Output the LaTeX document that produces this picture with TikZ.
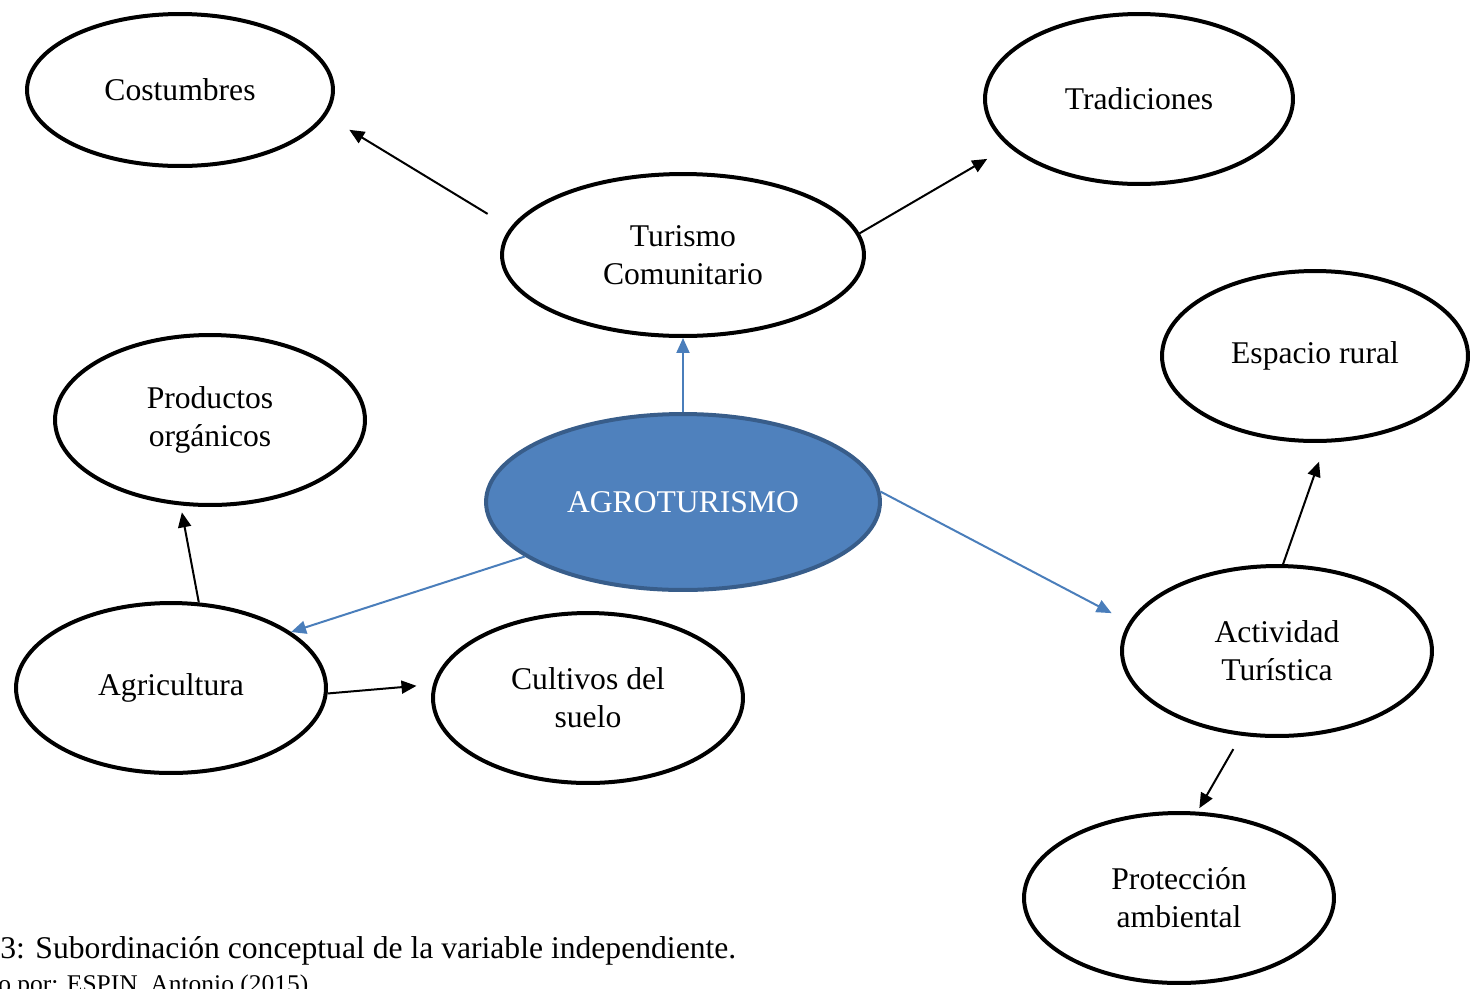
\documentclass[tikz,border=0pt]{standalone}
\usepackage{fontspec}
\setmainfont{Liberation Serif}
\usepackage{tikz}
\usetikzlibrary{arrows.meta,shapes.geometric}
\definecolor{azulrelleno}{RGB}{79,129,189}
\definecolor{azulborde}{RGB}{56,93,138}
\definecolor{azulflecha}{RGB}{74,126,187}
\begin{document}
\begin{tikzpicture}
[x=0.02cm, y=-0.02cm,
concepto/.style={ellipse, draw, line width=0.08cm, inner sep=0, minimum width=6.2cm, minimum height=3.4cm, align=center, font=\fontsize{18}{21.6}\selectfont},
central/.style={concepto, fill=azulrelleno, draw=azulborde, text=white, minimum width=7.88cm, minimum height=3.52cm},
flecha/.style={line width=0.04cm, -{Triangle[length=0.3cm,width=0.26cm]}},
flechaazul/.style={flecha, draw=azulflecha, fill=azulflecha}]
\useasboundingbox (0,0) rectangle (1471,988);
\clip (0,0) rectangle (1471,988);

% conceptos
\node[central] (agro) at (683,502) {AGROTURISMO};
\node[concepto, minimum width=7.24cm, minimum height=3.24cm] (turismo) at (683,255) {Turismo\\Comunitario};
\node[concepto, minimum width=6.12cm, minimum height=3.04cm] (costumbres) at (180,90) {Costumbres};
\node[concepto, minimum width=6.16cm] (tradiciones) at (1139,99) {Tradiciones};
\node[concepto] (productos) at (210,420) {Productos\\orgánicos};
\node[concepto, minimum width=6.12cm] (espacio) at (1315,356) {Espacio rural};
\node[concepto] (agri) at (171,688) {Agricultura};
\node[concepto] (cultivos) at (588,698) {Cultivos del\\suelo};
\node[concepto] (actividad) at (1277,651) {Actividad\\Turística};
\node[concepto] (proteccion) at (1179,898) {Protección\\ambiental};

% flechas
\draw[flechaazul] (agro.north) -- (turismo.south);
\draw[flechaazul] (agro.199) -- (agri.25);
\draw[flechaazul, shorten >=0.39cm] (agro.3.4) -- (actividad.169.5);
\draw[flecha, shorten <=0.53cm, shorten >=0.54cm] (turismo.171.9) -- (costumbres.-10);
\draw[flecha, shorten >=0.49cm] (turismo.7.6) -- (tradiciones.-160.5);
\draw[flecha, shorten >=0.14cm] (agri.72) -- (productos.-109.7);
\draw[flecha, shorten >=0.33cm] (agri.-2.9) -- (cultivos.175.8);
\draw[flecha, shorten >=0.4cm] (actividad.86) -- (espacio.-83.8);
\draw[flecha, shorten <=0.31cm, shorten >=0.08cm] (actividad.-113.9) -- (proteccion.78.2);

% pie
\node[anchor=base west, inner sep=0, font=\fontsize{18}{21.6}\selectfont] (pie) at (0,958) {3: Subordinación conceptual de la variable independiente.};
\node[anchor=base west, inner sep=0, font=\fontsize{14.5}{17}\selectfont] (fuente) at (-2,992) {o por: ESPIN, Antonio (2015)};
\end{tikzpicture}
\end{document}
